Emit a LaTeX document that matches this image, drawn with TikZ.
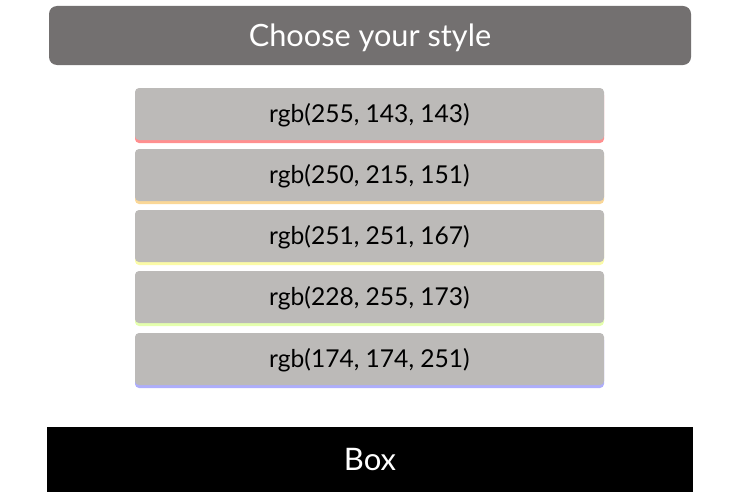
\documentclass[tikz,border=0pt]{standalone}
\usepackage{fontspec}
\setmainfont{Lato}
\definecolor{hdr}{RGB}{115,112,112}
\definecolor{btn}{RGB}{188,186,184}
\definecolor{cA}{RGB}{255,143,143}
\definecolor{cB}{RGB}{250,215,151}
\definecolor{cC}{RGB}{251,251,167}
\definecolor{cD}{RGB}{228,255,173}
\definecolor{cE}{RGB}{174,174,251}
\newcommand{\basedrop}[2]{\raisebox{-#1}[0pt][0pt]{#2}}
\tikzset{
  header/.style={fill=hdr, rounded corners=8pt, minimum width=642pt, minimum height=59pt, inner sep=0pt, text=white, font=\fontsize{30.7}{33}\selectfont},
  colbtn/.style={fill=btn, rounded corners=4pt, minimum width=469pt, minimum height=52pt, inner sep=0pt, text=black, font=\fontsize{24.6}{27}\selectfont,
    preaction={fill=#1, transform canvas={yshift=-3pt}}},
  bigbox/.style={fill=black, minimum width=646pt, minimum height=65pt, inner sep=0pt, text=white, font=\fontsize{31}{33}\selectfont}
}
\begin{document}
\begin{tikzpicture}[x=1pt,y=-1pt]
\useasboundingbox (0,0) rectangle (730,503);
\node[header] (h) at (370,35.5) {\basedrop{11.2pt}{Choose your style}};
\node[colbtn=cA] (b1) at (369.5,114) {\basedrop{8.7pt}{rgb(255, 143, 143)}};
\node[colbtn=cB] (b2) at (369.5,175) {\basedrop{8.7pt}{rgb(250, 215, 151)}};
\node[colbtn=cC] (b3) at (369.5,236) {\basedrop{8.7pt}{rgb(251, 251, 167)}};
\node[colbtn=cD] (b4) at (369.5,297) {\basedrop{8.7pt}{rgb(228, 255, 173)}};
\node[colbtn=cE] (b5) at (369.5,359) {\basedrop{8.7pt}{rgb(174, 174, 251)}};
\node[bigbox] (box) at (370,459.2) {\basedrop{10.8pt}{Box}};
\end{tikzpicture}
\end{document}
